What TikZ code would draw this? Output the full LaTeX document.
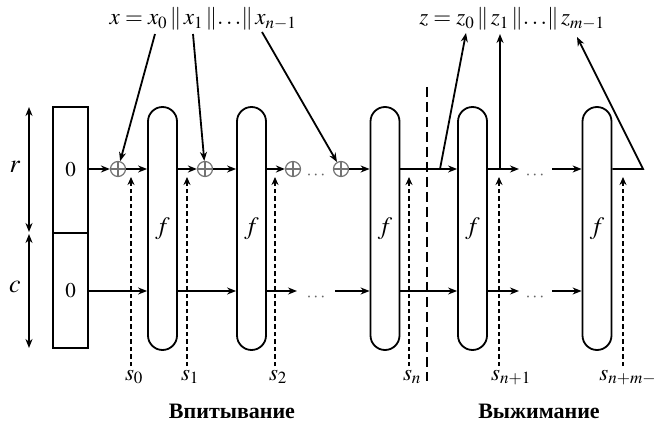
\documentclass[tikz,border=0pt]{standalone}
\usepackage{mathptmx}
\usepackage{fontspec}
\setmainfont{Liberation Serif}
\usetikzlibrary{arrows.meta}
\begin{document}
\begin{tikzpicture}[x=1pt,y=-1pt,line width=1.8pt,
  >={Stealth[length=9pt,width=7pt]},
  pill/.style={draw,rounded corners=14.5pt,minimum width=29pt,minimum height=243pt,inner sep=0pt,font=\fontsize{25}{28}\selectfont},
  regbox/.style={draw,minimum width=35pt,inner sep=0pt,outer sep=0pt,font=\fontsize{21}{24}\selectfont},
  xorc/.style={circle,draw=gray!90!black,line width=1.2pt,minimum size=15pt,inner sep=0pt,
    path picture={\draw[gray!90!black,line width=1.2pt] (path picture bounding box.north) -- (path picture bounding box.south) (path picture bounding box.west) -- (path picture bounding box.east);}},
  sline/.style={line width=1.6pt,dash pattern=on 4.5pt off 3pt,-{Stealth[length=8pt,width=7pt,open]}},
  lbl/.style={font=\fontsize{26}{28}\selectfont,inner sep=0pt},
  slbl/.style={font=\fontsize{23}{26}\selectfont,inner sep=0pt},
  flbl/.style={font=\fontsize{23}{26}\selectfont,inner sep=0pt},
  dotsl/.style={font=\fontsize{18}{22}\selectfont,inner sep=0pt,text=gray!80!black},
  title/.style={font=\fontsize{22}{26}\selectfont\bfseries,inner sep=0pt}]
\useasboundingbox (0,0) rectangle (658,427);
% state boxes
\node[regbox,minimum height=126pt] (b1) at (70.5,170) {$0$};
\node[regbox,minimum height=115pt,anchor=north] (b2) at (b1.south) {$0$};
% r / c arrows
\coordinate (rt) at (29,107);
\coordinate (rb) at (29,232);
\coordinate (ct) at (29,234);
\coordinate (cb) at (29,348);
\draw[<->] (rt) -- (rb);
\draw[<->] (ct) -- (cb);
\node[lbl] (r) at (15,167) {$r$};
\node[lbl] (c) at (15,287) {$c$};
% pills
\node[pill] (p1) at (162.5,228.5) {$f$};
\node[pill] (p2) at (251.5,228.5) {$f$};
\node[pill] (p3) at (385,228.5) {$f$};
\node[pill] (p4) at (472.5,228.5) {$f$};
\node[pill] (p5) at (597,228.5) {$f$};
% xors
\node[xorc] (x1) at (118,169) {};
\node[xorc] (x2) at (205,169) {};
\node[xorc] (x3) at (293,169) {};
\node[xorc] (x4) at (341,169) {};
% upper row
\draw[->] (b1.east |- x1) -- (x1.west);
\draw[->] (x1.east) -- (p1.west |- x1);
\draw[->] (p1.east |- x1) -- (x2.west);
\draw[->] (x2.east) -- (p2.west |- x2);
\draw[->] (p2.east |- x3) -- (x3.west);
\node[dotsl] (d1) at (316,176) {$\cdots$};
\draw[->] (x4.east) -- (p3.west |- x4);
\draw[->] (p3.east |- x4) -- (p4.west |- x4);
\coordinate (e1) at (519,169);
\draw[->] (p4.east |- x4) -- (e1);
\node[dotsl] (d2) at (535,176) {$\cdots$};
\coordinate (f1) at (552,169);
\draw[->] (f1) -- (p5.west |- f1);
\coordinate (t) at (643,169);
% lower row
\coordinate (lr) at (0,291);
\draw[->] (b2.east |- lr) -- (p1.west |- lr);
\draw[->] (p1.east |- lr) -- (p2.west |- lr);
\coordinate (e2) at (297,291);
\draw[->] (p2.east |- lr) -- (e2);
\node[dotsl] (d3) at (316,298) {$\cdots$};
\coordinate (f2) at (335,291);
\draw[->] (f2) -- (p3.west |- lr);
\draw[->] (p3.east |- lr) -- (p4.west |- lr);
\coordinate (e3) at (519,291);
\draw[->] (p4.east |- lr) -- (e3);
\node[dotsl] (d4) at (535,298) {$\cdots$};
\coordinate (f3) at (552,291);
\draw[->] (f3) -- (p5.west |- lr);
% s inputs
\foreach \n/\xx in {0/131,1/187,2/275,3/409,4/499,5/623}{
  \coordinate (sb\n) at (\xx,366);
  \coordinate (st\n) at (\xx,177);
  \draw[sline] (sb\n) -- (st\n);
}
\node[slbl,anchor=north] (l0) at (134,369) {$s_0$};
\node[slbl,anchor=north] (l1) at (190,369) {$s_1$};
\node[slbl,anchor=north] (l2) at (278,369) {$s_2$};
\node[slbl,anchor=north] (l3) at (412,369) {$s_n$};
\node[slbl,anchor=north] (l4) at (511,369) {$s_{n+1}$};
\node[slbl,anchor=north east] (l5) at (657,369) {$s_{n+m-}$};
% big dashed divider
\coordinate (dvt) at (427,87);
\coordinate (dvb) at (427,381);
\draw[line width=2.8pt,dash pattern=on 10pt off 5pt] (dvt) -- (dvb);
% formulas
\node[flbl] (xf) at (203,19) {$x = x_0 \mskip2mu\|\mskip2mu x_1 \mskip2mu\|{\ldots}\|\mskip2mu x_{n-1}$};
\node[flbl] (zf) at (512,19) {$z = z_0 \mskip2mu\|\mskip2mu z_1 \mskip2mu\|{\ldots}\|\mskip2mu z_{m-1}$};
\coordinate (a1) at (155,34);
\coordinate (a2) at (193,34);
\coordinate (a3) at (262,32);
\draw[->] (a1) -- (x1);
\draw[->] (a2) -- (x2);
\draw[->] (a3) -- (x4);
\coordinate (o1) at (440,169);
\coordinate (o2) at (500,169);
\coordinate (z0) at (466,33);
\coordinate (z1) at (500,34);
\coordinate (z2) at (577,37);
\draw[->] (o1) -- (z0);
\draw[->] (o2) -- (z1);
\draw[->] (p5.east |- t) -- (t) -- (z2);
% titles
\node[title] (ab) at (232,411) {Впитывание};
\node[title] (sq) at (539,411) {Выжимание};
\end{tikzpicture}
\end{document}
